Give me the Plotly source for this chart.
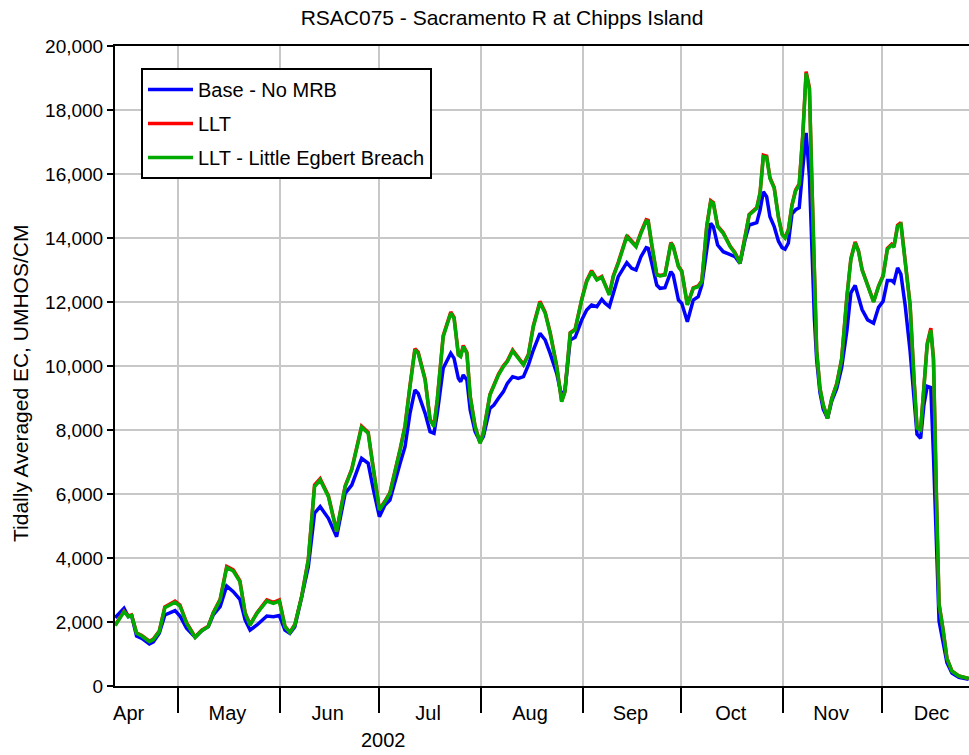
import pandas as pd
import plotly.graph_objects as go

# Day offsets from 2002-04-01
days = [10.9, 13.6, 14.9, 15.9, 17.4, 19.0, 21.3, 22.5, 24.3, 26.0, 29.1, 30.6, 32.6, 35.2, 37.2, 39.2,
        40.7, 42.8, 44.8, 46.8, 48.8, 50.4, 51.9, 54.0, 57.0, 59.0, 60.8, 62.5, 64.0, 65.5, 67.6, 69.6,
        71.5, 73.2, 75.7, 78.2, 80.8, 82.8, 85.8, 87.8, 89.4, 91.2, 92.9, 94.4, 97.5, 99.0, 100.5, 102.0,
        103.0, 105.1, 106.6, 107.8, 108.8, 110.6, 112.9, 113.9, 115.2, 115.9, 116.7, 117.8, 118.8, 120.3,
        121.8, 122.8, 124.8, 126.0, 127.4, 128.9, 130.1, 131.7, 133.4, 135.0, 136.5, 138.0, 140.0, 141.6,
        143.1, 145.1, 146.6, 147.6, 149.2, 150.7, 152.7, 154.2, 155.7, 157.3, 158.8, 159.8, 161.1, 162.3,
        163.8, 166.4, 167.9, 169.2, 170.7, 172.3, 172.9, 174.0, 175.5, 176.5, 178.0, 179.8, 180.5, 182.1,
        183.1, 184.8, 186.6, 188.1, 189.2, 190.7, 191.9, 192.7, 194.0, 195.7, 197.8, 199.3, 200.8, 202.3,
        203.6, 205.9, 206.9, 207.9, 208.9, 209.9, 211.2, 212.5, 213.6, 214.5, 215.5, 216.6, 217.7, 218.8,
        219.9, 220.9, 221.9, 222.6, 223.4, 224.1, 225.1, 226.1, 227.4, 228.7, 230.2, 231.7, 233.3, 234.5,
        235.8, 236.8, 237.9, 239.6, 241.4, 242.9, 244.3, 245.6, 246.9, 247.6, 248.7, 249.7, 251.0, 252.5,
        253.7, 254.6, 255.7, 256.7, 257.7, 258.8, 259.6, 260.5, 261.3, 262.5, 263.7, 265.2, 267.3, 270.3]

base = [2134, 2427, 2166, 2200, 1563, 1490, 1312, 1380, 1646, 2219, 2354, 2187, 1802, 1521, 1729, 1854,
        2219, 2479, 3125, 2948, 2708, 2063, 1750, 1906, 2187, 2166, 2200, 1750, 1646, 1854, 2792, 3729,
        5400, 5604, 5240, 4667, 6021, 6281, 7115, 6958, 6125, 5292, 5656, 5812, 6958, 7479, 8521, 9250,
        9146, 8521, 7948, 7896, 8521, 9928, 10396, 10240, 9615, 9510, 9719, 9562, 8625, 7948,
        7635, 7792, 8677, 8781, 8990, 9198, 9458, 9666, 9615, 9666, 10031, 10500, 11021, 10812,
        10396, 9771, 9041, 9250, 10812, 10896, 11437, 11750, 11906, 11853, 12083, 11958, 11853, 12271,
        12791, 13229, 13052, 13000, 13416, 13697, 13677, 13208, 12531, 12427, 12448, 12948, 12844, 12062,
        11958, 11385, 12062, 12166, 12531, 13625, 14458, 14354, 13781, 13572, 13469, 13416, 13208, 13937,
        14406, 14479, 14875, 15447, 15291, 14666, 14354, 13900, 13700, 13649, 13844, 14753, 14883, 14948,
        16182, 17286, 15922, 13714, 11500, 10200, 9169, 8649, 8364, 8909, 9299, 9948, 11117, 12286,
        12519, 12156, 11766, 11442, 11338, 11831, 12026, 12675, 12675, 12610, 13065, 12870, 11896, 10467,
        8779, 7870, 7740, 8779, 9364, 9325, 7221, 3974, 2026, 1377, 727, 403, 273, 208]

llt = [1900, 2340, 2190, 2220, 1660, 1580, 1400, 1465, 1715, 2470, 2650, 2530, 1980, 1535, 1745, 1870,
       2290, 2710, 3740, 3630, 3290, 2290, 1920, 2290, 2690, 2610, 2690, 1870, 1680, 1920, 2810, 3960,
       6280, 6480, 5950, 4840, 6250, 6780, 8120, 7930, 6780, 5520, 5780, 6040, 7400, 8140, 9390, 10540,
       10430, 9590, 8340, 8120, 8960, 10950, 11690, 11520, 10370, 10320, 10640, 10420, 9060, 8120,
       7600, 7910, 9110, 9380, 9750, 10010, 10160, 10500, 10270, 10050, 10370, 11260, 12020, 11680,
       11050, 10000, 8900, 9210, 11040, 11150, 12090, 12670, 12980, 12710, 12800, 12550, 12240, 12820,
       13240, 14080, 13910, 13750, 14180, 14570, 14550, 13750, 12860, 12830, 12860, 13860, 13750, 13120,
       12970, 11920, 12440, 12500, 12660, 14380, 15170, 15110, 14380, 14170, 13750, 13540, 13220, 14010,
       14740, 14950, 15420, 16590, 16560, 15890, 15580, 14650, 14130, 14020, 14260, 15040, 15500, 15690,
       17260, 19200, 18700, 15950, 12960, 10480, 9310, 8790, 8370, 8990, 9450, 10230, 12180, 13360,
       13880, 13610, 13020, 12500, 12010, 12500, 12830, 13680, 13810, 13740, 14400, 14480, 13350, 11920,
       9580, 8080, 8020, 9460, 10700, 11180, 10250, 5950, 2570, 1780, 865, 472, 315, 236]

llt_eb = [1885, 2323, 2166, 2200, 1646, 1563, 1385, 1450, 1698, 2448, 2615, 2500, 1958, 1521, 1729, 1854,
          2271, 2687, 3698, 3594, 3260, 2271, 1906, 2271, 2656, 2583, 2656, 1854, 1667, 1906, 2792, 3937,
          6229, 6437, 5917, 4823, 6229, 6750, 8083, 7896, 6750, 5500, 5760, 6021, 7375, 8104, 9354, 10500,
          10396, 9562, 8312, 8104, 8937, 10916, 11646, 11490, 10343, 10291, 10604, 10396, 9041, 8104,
          7583, 7896, 9094, 9354, 9719, 9979, 10135, 10469, 10240, 10031, 10343, 11229, 11979, 11646,
          11021, 9979, 8885, 9198, 11021, 11125, 12062, 12635, 12948, 12687, 12771, 12531, 12219, 12791,
          13208, 14041, 13885, 13729, 14146, 14531, 14510, 13729, 12844, 12812, 12844, 13833, 13729, 13104,
          12948, 11906, 12427, 12479, 12635, 14354, 15135, 15083, 14354, 14146, 13729, 13521, 13208, 13990,
          14718, 14927, 15396, 16541, 16521, 15860, 15552, 14623, 14104, 14000, 14234, 15013, 15468, 15662,
          17221, 19143, 18649, 15922, 12935, 10467, 9299, 8779, 8364, 8974, 9429, 10208, 12156, 13325,
          13844, 13584, 13000, 12481, 12000, 12481, 12805, 13649, 13779, 13714, 14364, 14429, 13325, 11896,
          9558, 8065, 8000, 9429, 10662, 11117, 10208, 5922, 2545, 1766, 857, 467, 312, 234]

month_labels = ["Apr", "May", "Jun", "Jul", "Aug", "Sep", "Oct", "Nov", "Dec"]
month_mid = ["2002-04-16", "2002-05-16", "2002-06-15 12:00", "2002-07-16", "2002-08-16",
             "2002-09-15 12:00", "2002-10-16", "2002-11-15 12:00", "2002-12-16"]
month_start = ["2002-05-01", "2002-06-01", "2002-07-01", "2002-08-01", "2002-09-01",
               "2002-10-01", "2002-11-01", "2002-12-01"]

start = pd.Timestamp("2002-04-01")
dates = [start + pd.Timedelta(days=d) for d in days]

FONT = "Liberation Sans, Arial, sans-serif"

fig = go.Figure()
fig.add_trace(go.Scatter(x=dates, y=base, mode="lines", name="Base - No MRB",
                         line=dict(color="#0000FF", width=3.5), legendgroup="a"))
fig.add_trace(go.Scatter(x=dates, y=llt, mode="lines", name="LLT",
                         line=dict(color="#FF0000", width=3.5), legendgroup="b"))
fig.add_trace(go.Scatter(x=dates, y=llt_eb, mode="lines", name="LLT - Little Egbert Breach",
                         line=dict(color="#00AA00", width=3.5), legendgroup="c"))

fig.update_layout(
    width=969, height=755,
    margin=dict(l=115, r=0, t=46, b=69),
    paper_bgcolor="white", plot_bgcolor="white",
    font=dict(family=FONT, size=19, color="black"),
    title=dict(text="RSAC075 - Sacramento R at Chipps Island", x=502 / 969, xref="container",
               xanchor="center", y=1 - 18 / 755, yanchor="middle",
               font=dict(family=FONT, size=21, color="black")),
    showlegend=True,
    legend=dict(x=(141 - 115) / 854, y=(686 - 68) / 640, xanchor="left", yanchor="top",
                bordercolor="black", borderwidth=2, bgcolor="white",
                font=dict(family=FONT, size=20, color="black"),
                tracegroupgap=5, traceorder="grouped", itemwidth=45),
    xaxis=dict(
        type="date",
        range=["2002-04-11 20:24", "2002-12-27 09:36"],
        tickmode="array", tickvals=month_mid, ticktext=month_labels,
        ticks="outside", ticklen=8, tickcolor="rgba(0,0,0,0)",
        showgrid=False, zeroline=False,
        showline=True, linecolor="black", linewidth=2, mirror=True,
        tickfont=dict(family=FONT, size=20, color="black"),
        minor=dict(tickmode="array", tickvals=month_start, ticks="outside", ticklen=25,
                   tickwidth=1.5, tickcolor="black", showgrid=True,
                   gridcolor="#c8c8c8", gridwidth=2),
    ),
    yaxis=dict(
        range=[0, 20000], tickmode="linear", tick0=0, dtick=2000, tickformat=",",
        ticks="outside", ticklen=6, tickwidth=1.5, tickcolor="black",
        showgrid=True, gridcolor="#c8c8c8", gridwidth=2, zeroline=False,
        showline=True, linecolor="black", linewidth=2,
        tickfont=dict(family=FONT, size=19, color="black"),
    ),
    annotations=[
        dict(text="2002", x=(383 - 115) / 854, y=-54 / 640, xref="paper", yref="paper",
             xanchor="center", yanchor="middle", showarrow=False,
             font=dict(family=FONT, size=20, color="black")),
        dict(text="Tidally Averaged EC, UMHOS/CM", x=(20 - 115) / 854, y=(686 - 384) / 640,
             xref="paper", yref="paper", xanchor="center", yanchor="middle", textangle=-90,
             showarrow=False, font=dict(family=FONT, size=21, color="black")),
    ],
)

fig.write_html("out.html", config={"displayModeBar": False},
               post_script="document.body.style.margin='0';document.body.style.overflow='hidden';")
